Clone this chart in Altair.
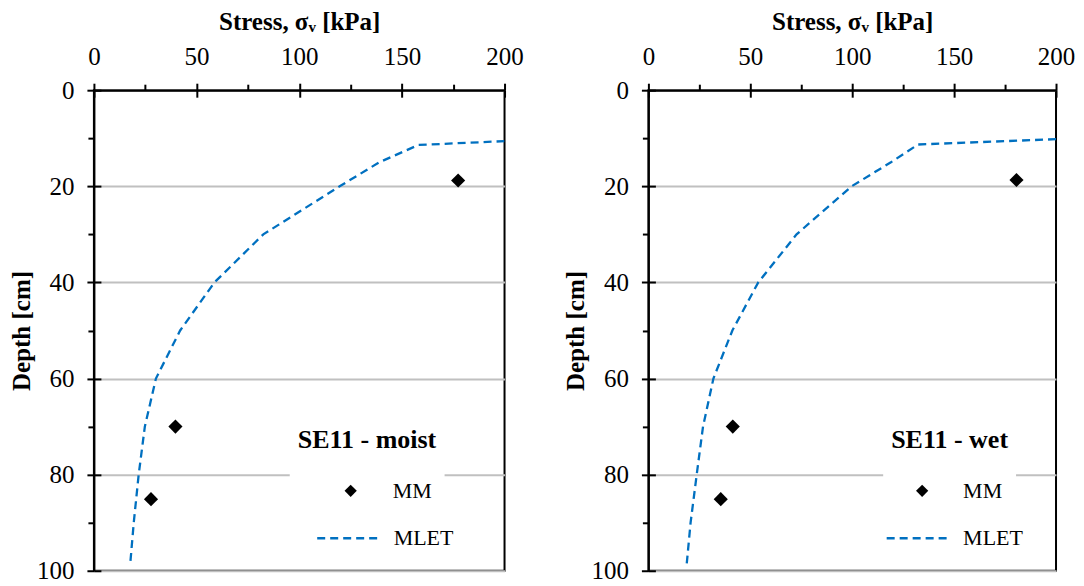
import altair as alt
import pandas as pd

# ---- data ----
moist_mlet_depth = [10.6, 11.4, 15, 20, 30, 40, 50, 60, 70, 80, 90, 99]
moist_mlet_stress = [200, 158, 139, 119.7, 82.5, 58.7, 42, 30.2, 24.8, 21.8, 19.4, 17.6]
moist_mm_depth = [18.8, 70.0, 85.1]
moist_mm_stress = [177.4, 39.7, 27.8]

wet_mlet_depth = [10.2, 11.3, 15, 20, 30, 40, 50, 60, 70, 80, 90, 99.5]
wet_mlet_stress = [200, 132.3, 119, 99.7, 72.7, 53.9, 41.2, 31.9, 26.8, 23.7, 20.7, 18.6]
wet_mm_depth = [18.7, 70.0, 85.1]
wet_mm_stress = [180.6, 41.4, 35.5]

x_major = [0, 50, 100, 150, 200]
x_minor = [25, 75, 125, 175]
y_major = [0, 20, 40, 60, 80, 100]
y_minor = [10, 30, 50, 70, 90]

FONT = "Liberation Serif"
BLUE = "#0070C0"


def panel(title, ls, ld, ms, md, width, mm_leg, mlet_leg):
    line_df = pd.DataFrame({"stress": ls, "depth": ld, "series": "MLET"})
    pt_df = pd.DataFrame({"stress": ms, "depth": md, "series": "MM"})
    xs = alt.Scale(domain=[0, 200], nice=False, zero=False)
    ys = alt.Scale(domain=[0, 100], reverse=True, nice=False, zero=False)

    line = alt.Chart(line_df).mark_line(color=BLUE, strokeWidth=2.3, clip=True).encode(
        x=alt.X("stress:Q", scale=xs, axis=alt.Axis(
            orient="top", values=x_major, title="Stress, σᵥ [kPa]", tickSize=7,
            labelPadding=14, titlePadding=10, grid=False)),
        y=alt.Y("depth:Q", scale=ys, axis=alt.Axis(
            orient="left", values=y_major, title="Depth [cm]", tickSize=7,
            labelPadding=13, titlePadding=2, grid=True)),
        order=alt.Order("depth:Q"),
        strokeDash=alt.StrokeDash("series:N", scale=alt.Scale(domain=["MLET"], range=[[8, 5]]),
                                  legend=alt.Legend(
                                      title=None, orient="none", legendX=mlet_leg[0], legendY=mlet_leg[1],
                                      padding=0, symbolType="stroke", symbolStrokeColor=BLUE,
                                      symbolStrokeWidth=2.3, symbolSize=4096, labelOffset=11)),
    )
    pts = alt.Chart(pt_df).mark_point(filled=True, color="black", size=200, opacity=1).encode(
        x=alt.X("stress:Q", scale=xs, axis=alt.Axis(
            orient="top", values=x_major, labels=False, domain=False, tickSize=7,
            offset=-7, title=None, grid=False)),
        y=alt.Y("depth:Q", scale=ys, axis=alt.Axis(
            orient="left", values=y_major, labels=False, domain=False, tickSize=7,
            offset=-7, title=None, grid=False)),
        shape=alt.Shape("series:N", scale=alt.Scale(domain=["MM"], range=["diamond"]),
                        legend=alt.Legend(
                            title=title, orient="none", legendX=mm_leg[0], legendY=mm_leg[1],
                            fillColor="white", padding=8, titlePadding=27,
                            symbolOffset=mm_leg[2], labelOffset=mm_leg[3], symbolSize=150,
                            symbolFillColor="black", symbolStrokeColor="black",
                            symbolType="diamond")),
    )
    minor = alt.Chart(pt_df).mark_point(opacity=0).encode(
        x=alt.X("stress:Q", scale=xs, axis=alt.Axis(
            orient="top", values=x_minor, labels=False, domain=False, tickSize=6,
            title=None, grid=False)),
        y=alt.Y("depth:Q", scale=ys, axis=alt.Axis(
            orient="left", values=y_minor, labels=False, domain=False, tickSize=6,
            title=None, grid=False)),
    )
    return alt.layer(line, pts, minor).resolve_axis(
        x="independent", y="independent").properties(width=width, height=481)


left = panel("SE11 - moist", moist_mlet_stress, moist_mlet_depth, moist_mm_stress, moist_mm_depth,
             411, (196, 329, 42, 31), (222, 415))
right = panel("SE11 - wet", wet_mlet_stress, wet_mlet_depth, wet_mm_stress, wet_mm_depth,
              408, (235, 329, 20, 30), (237, 415))

chart = alt.hconcat(left, right, spacing=38).resolve_scale(
    shape="independent", strokeDash="independent"
).resolve_legend(
    shape="independent", strokeDash="independent"
).configure_view(
    stroke="black", strokeWidth=2
).configure_axis(
    domainColor="black", domainWidth=2, tickColor="black", tickWidth=2,
    labelFont=FONT, labelFontSize=25, labelColor="black",
    titleFont=FONT, titleFontSize=25, titleFontWeight="bold", titleColor="black",
    gridColor="#C0C0C0", gridWidth=2, labelFlush=False, labelOverlap=False
).configure_legend(
    labelFont=FONT, labelFontSize=22, labelColor="black",
    titleFont=FONT, titleFontSize=26, titleFontWeight="bold", titleColor="black",
    titleLimit=400
).properties(
    padding={"left": 0, "top": 0, "right": 0, "bottom": 0}
)

chart.save("out.html", embed_options={"renderer": "svg", "actions": False})
